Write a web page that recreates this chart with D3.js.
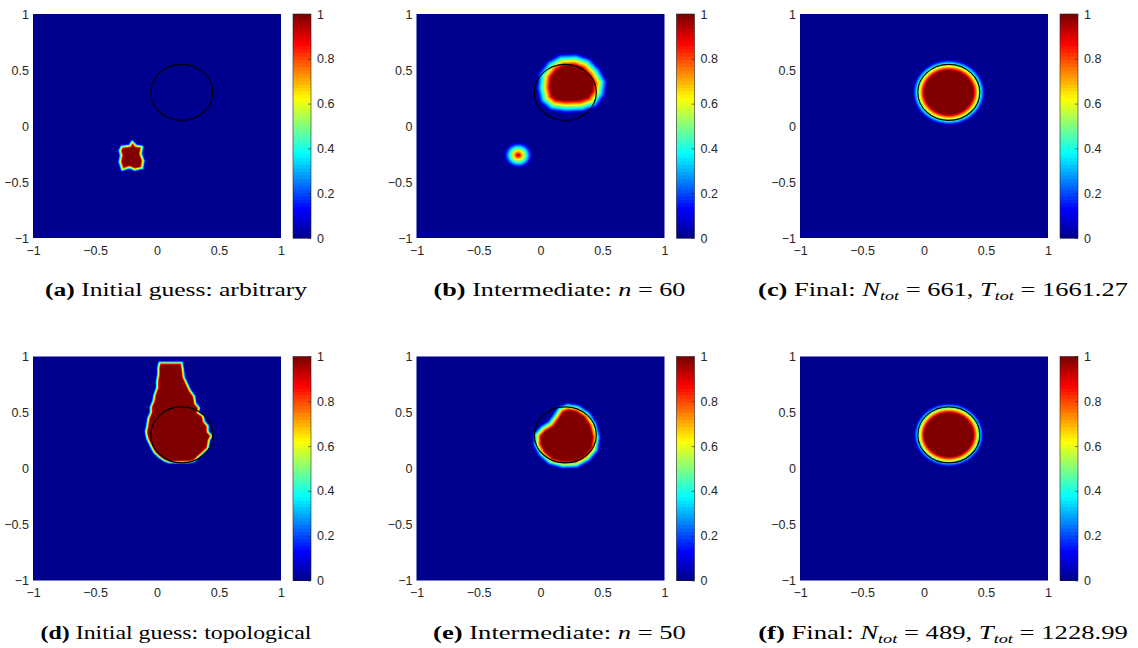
<!DOCTYPE html>
<html>
<head>
<meta charset="utf-8">
<script src="https://cdn.jsdelivr.net/npm/d3@7"></script>
<style>
  body { margin: 0; background: #fff; }
  svg { display: block; }
</style>
</head>
<body>
<svg id="chart" width="1138" height="648"></svg>
<script>
// target shape (black circle), same in every panel
const targetCircle = [0.2, 0.3, 0.25];

const axisTicks = [-1, -0.5, 0, 0.5, 1];
const colorbarTicks = [0, 0.2, 0.4, 0.6, 0.8, 1];
const jetStops = [0, 0.125, 0.375, 0.625, 0.875, 1];
const jetColors = ["#00008f", "#0000ff", "#00ffff", "#ffff00", "#ff0000", "#800000"];

// blob outlines (0.5 level)
const blobA = [[-0.285,-0.185],[-0.22,-0.175],[-0.2,-0.14],[-0.17,-0.175],[-0.12,-0.185],[-0.13,-0.25],[-0.11,-0.31],[-0.12,-0.375],[-0.18,-0.39],[-0.22,-0.37],[-0.28,-0.39],[-0.3,-0.32],[-0.29,-0.26],[-0.3,-0.22]];
const blobB = [[0.03,0.45],[0.09,0.54],[0.17,0.59],[0.28,0.595],[0.37,0.56],[0.44,0.48],[0.485,0.39],[0.47,0.29],[0.42,0.21],[0.33,0.175],[0.2,0.17],[0.1,0.185],[0.04,0.24],[0.02,0.34]];
const dotB = [-0.18, -0.26, 0.055];
const circleC = [0.2, 0.3, 0.245];
const blobD = [[0.02,0.945],[0.2,0.945],[0.21,0.88],[0.215,0.82],[0.24,0.76],[0.265,0.7],[0.3,0.645],[0.31,0.58],[0.34,0.54],[0.33,0.5],[0.37,0.47],[0.38,0.42],[0.41,0.38],[0.41,0.33],[0.44,0.29],[0.42,0.25],[0.41,0.18],[0.37,0.14],[0.33,0.1],[0.3,0.065],[0.25,0.055],[0.1,0.055],[0.06,0.07],[0.02,0.1],[-0.02,0.14],[-0.05,0.2],[-0.08,0.27],[-0.09,0.33],[-0.08,0.38],[-0.07,0.45],[-0.05,0.5],[-0.05,0.55],[-0.03,0.6],[-0.02,0.66],[0.0,0.72],[0.0,0.78],[0.01,0.84],[0.01,0.9]];
const blobE = [[-0.03,0.3],[0.02,0.36],[0.08,0.4],[0.12,0.46],[0.16,0.53],[0.22,0.555],[0.3,0.54],[0.38,0.48],[0.43,0.39],[0.455,0.28],[0.44,0.17],[0.38,0.09],[0.29,0.035],[0.18,0.03],[0.08,0.06],[0.01,0.13],[-0.03,0.21]];
const circleF = [0.2, 0.3, 0.24];

const captionA = [["(a)", "b"], [" Initial guess: arbitrary", ""]];
const captionB = [["(b)", "b"], [" Intermediate: ", ""], ["n", "i"], [" = 60", ""]];
const captionC = [["(c)", "b"], [" Final: ", ""], ["N", "i"], ["tot", "s"], [" = 661, ", ""], ["T", "i"], ["tot", "s"], [" = 1661.27", ""]];
const captionD = [["(d)", "b"], [" Initial guess: topological", ""]];
const captionE = [["(e)", "b"], [" Intermediate: ", ""], ["n", "i"], [" = 50", ""]];
const captionF = [["(f)", "b"], [" Final: ", ""], ["N", "i"], ["tot", "s"], [" = 489, ", ""], ["T", "i"], ["tot", "s"], [" = 1228.99", ""]];

const panels = [
  { polys: [blobA], circles: [], w: 0.04, caption: captionA },
  { polys: [blobB], circles: [dotB], w: 0.12, caption: captionB },
  { polys: [], circles: [circleC], w: 0.1, caption: captionC },
  { polys: [blobD], circles: [], w: 0.035, caption: captionD },
  { polys: [blobE], circles: [], w: 0.075, caption: captionE },
  { polys: [], circles: [circleF], w: 0.09, caption: captionF }
];

// layout
const svg = d3.select("#chart");
const W = 248, H = 224;
const colLeft = [33, 416.5, 800];
const rowTop = [14, 356.5];
const captionWidth = [263, 252, 370, 271, 253, 370];
const textColor = "#262626";

const x = d3.scaleLinear().domain([-1, 1]).range([0, W]);
const y = d3.scaleLinear().domain([-1, 1]).range([H, 0]);
const jet = d3.scaleLinear().domain(jetStops).range(jetColors).clamp(true);

const lut = d3.range(256).map(k => d3.rgb(jet(k / 255)));

function sdPoly(p, poly) {
  let dmin = Infinity;
  for (let k = 0, n = poly.length; k < n; k++) {
    const a = poly[k], b = poly[(k + 1) % n];
    const dx = b[0] - a[0], dy = b[1] - a[1];
    let t = ((p[0] - a[0]) * dx + (p[1] - a[1]) * dy) / (dx * dx + dy * dy);
    t = Math.max(0, Math.min(1, t));
    const ex = p[0] - a[0] - t * dx, ey = p[1] - a[1] - t * dy;
    dmin = Math.min(dmin, ex * ex + ey * ey);
  }
  const d = Math.sqrt(dmin);
  return d3.polygonContains(poly, p) ? d : -d;
}

function fieldImage(panel) {
  const canvas = document.createElement("canvas");
  canvas.width = W; canvas.height = H;
  const ctx = canvas.getContext("2d");
  const img = ctx.createImageData(W, H);
  for (let j = 0; j < H; j++) {
    const py = y.invert(j + 0.5);
    for (let i = 0; i < W; i++) {
      const px = x.invert(i + 0.5);
      let sd = -Infinity;
      panel.polys.forEach(poly => { sd = Math.max(sd, sdPoly([px, py], poly)); });
      panel.circles.forEach(c => { sd = Math.max(sd, c[2] - Math.hypot(px - c[0], py - c[1])); });
      const v = Math.max(0, Math.min(1, 0.5 + sd / panel.w));
      const c = lut[Math.round(v * 255)];
      const o = (j * W + i) * 4;
      img.data[o] = c.r; img.data[o + 1] = c.g; img.data[o + 2] = c.b; img.data[o + 3] = 255;
    }
  }
  ctx.putImageData(img, 0, 0);
  return canvas.toDataURL();
}

const cbScale = d3.scaleLinear().domain([0, 1]).range([H, 0]);
const levels = d3.range(64);
const cbBand = d3.scaleBand().domain(levels).range([H, 0]);

function styleTicks(sel) {
  sel.selectAll("text")
    .attr("fill", textColor)
    .style("font-family", "Liberation Sans, Arial, sans-serif")
    .style("font-size", "12.5px");
}

panels.forEach((panel, idx) => {
  const g = svg.append("g")
    .attr("transform", `translate(${colLeft[idx % 3]},${rowTop[Math.floor(idx / 3)]})`);

  g.append("image")
    .attr("href", fieldImage(panel))
    .attr("width", W).attr("height", H)
    .attr("preserveAspectRatio", "none");

  g.append("ellipse")
    .attr("cx", x(targetCircle[0]))
    .attr("cy", y(targetCircle[1]))
    .attr("rx", x(targetCircle[0] + targetCircle[2]) - x(targetCircle[0]))
    .attr("ry", y(targetCircle[1]) - y(targetCircle[1] + targetCircle[2]))
    .attr("fill", "none")
    .attr("stroke", "#000")
    .attr("stroke-width", 1.2);

  // axes: MATLAB style, labels only
  const yAxis = g.append("g")
    .call(d3.axisLeft(y).tickValues(axisTicks).tickSize(0).tickPadding(4).tickFormat(d3.format("")));
  const xAxis = g.append("g").attr("transform", `translate(0,${H})`)
    .call(d3.axisBottom(x).tickValues(axisTicks).tickSize(0).tickPadding(8).tickFormat(d3.format("")));
  [xAxis, yAxis].forEach(a => {
    a.select(".domain").remove();
    styleTicks(a);
  });

  // colorbar
  const cb = g.append("g").attr("transform", "translate(260,0)");
  cb.selectAll("rect.lv").data(levels).enter().append("rect")
    .attr("class", "lv")
    .attr("x", 0).attr("width", 18)
    .attr("y", d => cbBand(d)).attr("height", cbBand.bandwidth() + 0.5)
    .attr("fill", d => jet(d / 63));
  cb.append("rect").attr("width", 18).attr("height", H)
    .attr("fill", "none").attr("stroke", textColor).attr("stroke-width", 0.6);
  const cbAxis = cb.append("g").attr("transform", "translate(18,0)")
    .call(d3.axisRight(cbScale).tickValues(colorbarTicks).tickSize(-3).tickPadding(6).tickFormat(d3.format("")));
  cbAxis.select(".domain").remove();
  cbAxis.selectAll("line").attr("stroke", textColor).attr("stroke-width", 0.6);
  styleTicks(cbAxis);

  // caption, stretched to the width it has in the picture
  const cap = g.append("text")
    .attr("text-anchor", "middle")
    .style("font-family", "Liberation Serif, Times New Roman, serif")
    .style("font-size", "19px")
    .attr("fill", "#000");
  panel.caption.forEach(([t, s], k) => {
    const ts = cap.append("tspan").text(t);
    if (s === "b") ts.style("font-weight", "bold");
    if (s === "i") ts.style("font-style", "italic");
    if (s === "s") ts.style("font-style", "italic").style("font-size", "13px").attr("dy", 4);
    if (s === "" && k > 0 && panel.caption[k - 1][1] === "s") ts.attr("dy", -4);
  });
  const bw = cap.node().getBBox().width;
  cap.attr("transform", `translate(143,${H + 58}) scale(${captionWidth[idx] / bw},1)`);
});
</script>
</body>
</html>
